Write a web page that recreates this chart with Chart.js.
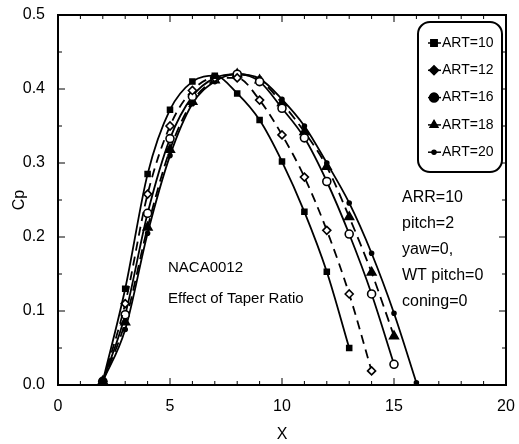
<!DOCTYPE html>
<html>
<head>
<meta charset="utf-8">
<script src="https://cdn.jsdelivr.net/npm/chart.js@4.4.1/dist/chart.umd.min.js"></script>
<style>
  html, body { margin: 0; padding: 0; background: #fff; }
  #wrap { width: 519px; height: 444px; }
</style>
</head>
<body>
<div id="wrap"><canvas id="grafico" width="519" height="444"></canvas></div>
<script>
// Dados (Cp em função de X)
const xValores = [2, 3, 4, 5, 6, 7, 8, 9, 10, 11, 12, 13, 14, 15, 16];
const art10 = [0.005, 0.13, 0.285, 0.372, 0.41, 0.418, 0.394, 0.358, 0.302, 0.234, 0.153, 0.05];
const art12 = [0.005, 0.11, 0.258, 0.35, 0.398, 0.415, 0.415, 0.385, 0.338, 0.281, 0.209, 0.123, 0.019];
const art16 = [0.005, 0.095, 0.232, 0.333, 0.39, 0.415, 0.42, 0.41, 0.374, 0.334, 0.275, 0.204, 0.123, 0.028];
const art18 = [0.005, 0.085, 0.213, 0.318, 0.383, 0.412, 0.42, 0.412, 0.381, 0.342, 0.295, 0.227, 0.152, 0.066];
const art20 = [0.005, 0.075, 0.205, 0.31, 0.38, 0.41, 0.42, 0.414, 0.386, 0.35, 0.30, 0.246, 0.178, 0.097, 0.003];
const nomesSeries = ['ART=10', 'ART=12', 'ART=16', 'ART=18', 'ART=20'];
const xTicks = [0, 5, 10, 15, 20];
const yTicks = [0.0, 0.1, 0.2, 0.3, 0.4, 0.5];
const anotacoes = ['ARR=10', 'pitch=2', 'yaw=0,', 'WT pitch=0', 'coning=0'];

const fonte = "'Liberation Sans', Arial, sans-serif";

function pontos(valores) {
    return valores.map((v, i) => ({ x: xValores[i], y: v }));
}

// estilo de cada série: marcador e tracejado
const estilos = [
    { ponto: 'rect', raio: 3.5, preench: '#000', tracejado: [] },
    { ponto: 'rectRot', raio: 4, preench: '#fff', tracejado: [9, 6] },
    { ponto: 'circle', raio: 4, preench: '#fff', tracejado: [] },
    { ponto: 'triangle', raio: 5, preench: '#000', tracejado: [10, 6] },
    { ponto: 'circle', raio: 2, preench: '#000', tracejado: [] }
];
const series = [art10, art12, art16, art18, art20];

const datasets = series.map((s, i) => ({
    label: nomesSeries[i],
    data: pontos(s),
    borderColor: '#000',
    borderWidth: 1.8,
    borderDash: estilos[i].tracejado,
    pointStyle: estilos[i].ponto,
    pointRadius: estilos[i].raio,
    pointBackgroundColor: estilos[i].preench,
    pointBorderColor: '#000',
    pointBorderWidth: 1.6,
    cubicInterpolationMode: 'monotone',
    fill: false
}));

// Plugin: moldura, marcas internas, legenda com borda arredondada e textos
const pluginMoldura = {
    id: 'moldura',
    afterDraw(chart) {
        const { ctx, chartArea: a, scales } = chart;
        ctx.save();
        ctx.strokeStyle = '#000';
        ctx.lineWidth = 2;
        ctx.strokeRect(a.left, a.top, a.right - a.left, a.bottom - a.top);

        // marcas do eixo x (menores a cada unidade)
        ctx.lineWidth = 1;
        for (let v = 0; v <= 20; v++) {
            const px = scales.x.getPixelForValue(v);
            const len = v % 5 === 0 ? 7 : 4;
            ctx.beginPath();
            ctx.moveTo(px, a.bottom); ctx.lineTo(px, a.bottom - len);
            ctx.moveTo(px, a.top); ctx.lineTo(px, a.top + len);
            ctx.stroke();
        }
        // marcas do eixo y
        for (let k = 0; k <= 10; k++) {
            const py = scales.y.getPixelForValue(k * 0.05);
            const len = k % 2 === 0 ? 7 : 4;
            ctx.beginPath();
            ctx.moveTo(a.left, py); ctx.lineTo(a.left + len, py);
            ctx.moveTo(a.right, py); ctx.lineTo(a.right - len, py);
            ctx.stroke();
        }

        // legenda
        const lx = 418, ly = 22, lw = 84, lh = 150, r = 12;
        ctx.lineWidth = 2;
        ctx.beginPath();
        ctx.roundRect(lx, ly, lw, lh, r);
        ctx.fillStyle = '#fff';
        ctx.fill();
        ctx.stroke();
        ctx.font = '14px ' + fonte;
        ctx.textBaseline = 'middle';
        ctx.textAlign = 'left';
        chart.data.datasets.forEach((ds, i) => {
            const y = 43 + i * 27.3;
            ctx.fillStyle = '#000';
            ctx.lineWidth = 1.5;
            ctx.beginPath();
            ctx.moveTo(428, y); ctx.lineTo(441, y);
            ctx.stroke();
            Chart.helpers.drawPoint(ctx, {
                pointStyle: ds.pointStyle,
                radius: ds.pointStyle === 'circle' && i === 4 ? 2 : 4.5,
                borderWidth: 1
            }, 434, y);
            ctx.fill();
            ctx.fillText(ds.label, 442, y);
        });

        // textos de anotação
        ctx.fillStyle = '#000';
        ctx.font = '16px ' + fonte;
        anotacoes.forEach((t, i) => {
            ctx.fillText(t, 402, 198 + i * 26);
        });
        ctx.font = '15px ' + fonte;
        ctx.fillText('NACA0012', 168, 268);
        ctx.fillText('Effect of Taper Ratio', 168, 299);
        ctx.restore();
    }
};

new Chart(document.getElementById('grafico'), {
    type: 'scatter',
    data: { datasets: datasets },
    plugins: [pluginMoldura],
    options: {
        responsive: false,
        animation: false,
        showLine: true,
        layout: { padding: { top: 15, right: 13, left: 0, bottom: 0 } },
        plugins: { legend: { display: false }, tooltip: { enabled: false } },
        scales: {
            x: {
                type: 'linear',
                min: 0, max: 20,
                afterBuildTicks: (s) => { s.ticks = xTicks.map(v => ({ value: v })); },
                afterFit: (s) => { s.height = 59; },
                grid: { display: false },
                border: { display: false },
                ticks: { color: '#000', font: { family: fonte, size: 16 }, padding: 4 },
                title: { display: true, text: 'X', color: '#000', font: { family: fonte, size: 16 }, padding: { top: 10, bottom: 0 } }
            },
            y: {
                type: 'linear',
                min: 0, max: 0.5,
                afterBuildTicks: (s) => { s.ticks = yTicks.map(v => ({ value: v })); },
                afterFit: (s) => { s.width = 58; },
                grid: { display: false },
                border: { display: false },
                ticks: {
                    color: '#000', font: { family: fonte, size: 16 }, padding: 5,
                    callback: (v) => Number(v).toFixed(1)
                },
                title: { display: true, text: 'Cp', color: '#000', font: { family: fonte, size: 16 }, padding: { top: 10, bottom: 0 } }
            }
        }
    }
});
</script>
</body>
</html>
